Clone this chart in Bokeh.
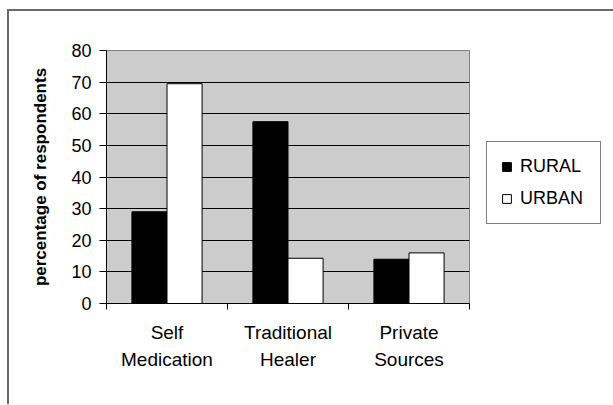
from bokeh.plotting import figure
from bokeh.models import Range1d, FixedTicker, Legend, LegendItem, ColumnDataSource
from bokeh.transform import dodge
from bokeh.embed import file_html
from bokeh.resources import INLINE

# ---- data ----
categories = ["Self\nMedication", "Traditional\nHealer", "Private\nSources"]
series = ["RURAL", "URBAN"]
rural = [29, 57.5, 14]
urban = [69.5, 14.3, 16]
y_ticks = [0, 10, 20, 30, 40, 50, 60, 70, 80]
y_title = "percentage of respondents"

FONT = "Liberation Sans"

x_pos = [i + 0.5 for i in range(len(categories))]
src = ColumnDataSource(dict(x=x_pos, rural=rural, urban=urban))

p = figure(frame_width=363, frame_height=253, output_backend="svg", toolbar_location=None,
           x_range=Range1d(0, len(categories)), y_range=Range1d(y_ticks[0], y_ticks[-1]),
           min_border_left=97, min_border_right=143, min_border_top=39, min_border_bottom=101)

# outer frame of the chart (left and top edges)
p.margin = (9, 0, 0, 7)
p.styles = {"border-left": "2px solid #6a6a6a", "border-top": "2px solid #6a6a6a"}

p.background_fill_color = "#cccccc"
p.border_fill_color = "white"
p.outline_line_color = "#808080"
p.outline_line_width = 1

bw = 0.29
r1 = p.vbar(x=dodge("x", -bw / 2), top="rural", width=bw, source=src,
            fill_color="black", line_color="black", line_width=1)
r2 = p.vbar(x=dodge("x", bw / 2), top="urban", width=bw, source=src,
            fill_color="white", line_color="black", line_width=1)

# y axis
yax = p.yaxis[0]
yax.ticker = FixedTicker(ticks=y_ticks)
yax.axis_line_color = "black"
yax.major_tick_line_color = "black"
yax.major_tick_out = 7
yax.major_tick_in = 0
yax.minor_tick_line_color = None
yax.major_label_text_font = FONT
yax.major_label_text_font_size = "18px"
yax.major_label_text_color = "black"
yax.major_label_standoff = 8
yax.axis_label = y_title
yax.axis_label_text_font = FONT
yax.axis_label_text_font_size = "17px"
yax.axis_label_text_font_style = "bold"
yax.axis_label_text_color = "black"
yax.axis_label_standoff = 18

# x axis
xax = p.xaxis[0]
xax.ticker = FixedTicker(ticks=x_pos, minor_ticks=list(range(len(categories) + 1)))
xax.major_label_overrides = {xp: c for xp, c in zip(x_pos, categories)}
xax.axis_line_color = "black"
xax.major_tick_line_color = None
xax.major_tick_out = 0
xax.major_tick_in = 0
xax.minor_tick_line_color = "black"
xax.minor_tick_out = 6
xax.minor_tick_in = 0
xax.major_label_text_font = FONT
xax.major_label_text_font_size = "19px"
xax.major_label_text_color = "black"
xax.major_label_text_line_height = 1.3
xax.major_label_standoff = 12

# grid
p.xgrid.grid_line_color = None
p.ygrid.ticker = FixedTicker(ticks=y_ticks[1:-1])
p.ygrid.grid_line_color = "black"
p.ygrid.grid_line_width = 1

# legend (outside the plot area, on the right)
legend = Legend(items=[LegendItem(label=series[0], renderers=[r1]),
                       LegendItem(label=series[1], renderers=[r2])],
                location=(17, 79))
legend.label_text_font = FONT
legend.label_text_font_size = "18px"
legend.label_text_color = "black"
legend.glyph_width = 11
legend.glyph_height = 11
legend.label_height = 20
legend.label_width = 66
legend.label_standoff = 8
legend.spacing = 11
legend.padding = 14
legend.margin = 0
legend.border_line_color = "black"
legend.border_line_width = 1
legend.background_fill_color = "white"
legend.background_fill_alpha = 1
p.add_layout(legend, "right")

open("out.html", "w").write(file_html(p, INLINE))
